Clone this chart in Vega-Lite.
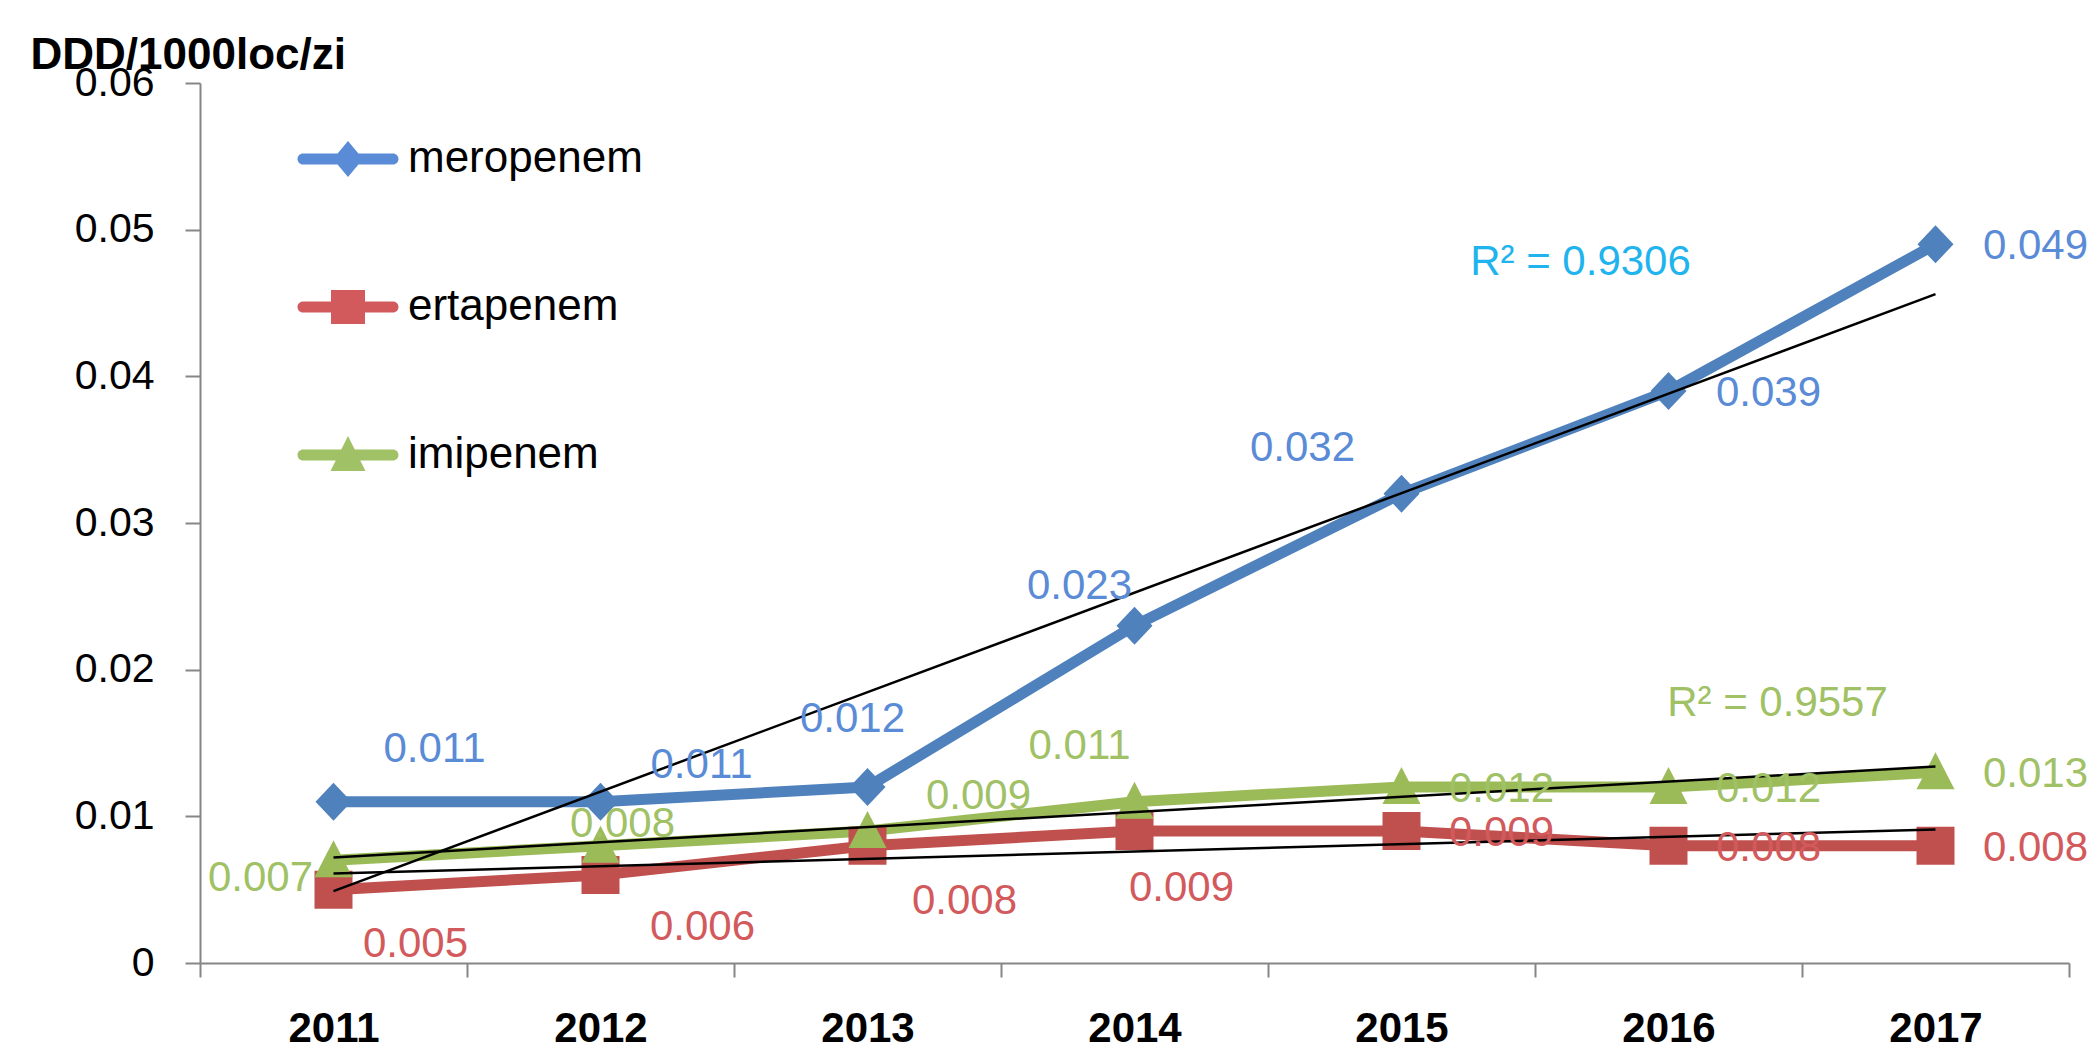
{
  "$schema": "https://vega.github.io/schema/vega-lite/v6.json",
  "width": 1869,
  "height": 880,
  "autosize": {"type": "none"},
  "padding": {"left": 200, "top": 83, "right": 27, "bottom": 101},
  "background": "white",
  "config": {"view": {"stroke": null}, "font": "Liberation Sans"},
  "datasets": {
    "main": [
      {"series": "meropenem", "year": 2011, "value": 0.011},
      {"series": "meropenem", "year": 2012, "value": 0.011},
      {"series": "meropenem", "year": 2013, "value": 0.012},
      {"series": "meropenem", "year": 2014, "value": 0.023},
      {"series": "meropenem", "year": 2015, "value": 0.032},
      {"series": "meropenem", "year": 2016, "value": 0.039},
      {"series": "meropenem", "year": 2017, "value": 0.049},
      {"series": "ertapenem", "year": 2011, "value": 0.005},
      {"series": "ertapenem", "year": 2012, "value": 0.006},
      {"series": "ertapenem", "year": 2013, "value": 0.008},
      {"series": "ertapenem", "year": 2014, "value": 0.009},
      {"series": "ertapenem", "year": 2015, "value": 0.009},
      {"series": "ertapenem", "year": 2016, "value": 0.008},
      {"series": "ertapenem", "year": 2017, "value": 0.008},
      {"series": "imipenem", "year": 2011, "value": 0.007},
      {"series": "imipenem", "year": 2012, "value": 0.008},
      {"series": "imipenem", "year": 2013, "value": 0.009},
      {"series": "imipenem", "year": 2014, "value": 0.011},
      {"series": "imipenem", "year": 2015, "value": 0.012},
      {"series": "imipenem", "year": 2016, "value": 0.012},
      {"series": "imipenem", "year": 2017, "value": 0.013}
    ],
    "trend": [
      {"series": "meropenem", "year": 2011, "value": 0.0049, "r2": ""},
      {"series": "meropenem", "year": 2017, "value": 0.0456, "r2": "R² = 0.9306"},
      {"series": "ertapenem", "year": 2011, "value": 0.0061, "r2": ""},
      {"series": "ertapenem", "year": 2017, "value": 0.0091, "r2": ""},
      {"series": "imipenem", "year": 2011, "value": 0.0072, "r2": ""},
      {"series": "imipenem", "year": 2017, "value": 0.0134, "r2": "R² = 0.9557"}
    ]
  },
  "data": {"name": "main"},
  "encoding": {
    "x": {
      "field": "year", "type": "ordinal",
      "scale": {"type": "band", "paddingInner": 0, "paddingOuter": 0, "domain": [2011, 2012, 2013, 2014, 2015, 2016, 2017]},
      "axis": {"title": null, "labelAngle": 0, "tickBand": "extent", "labelFontSize": 42, "labelFontWeight": "bold", "labelFont": "Liberation Sans", "labelColor": "#000", "labelPadding": 31, "tickSize": 14, "tickWidth": 2, "tickColor": "#868686", "domainColor": "#868686", "domainWidth": 2, "grid": false}
    },
    "y": {
      "field": "value", "type": "quantitative",
      "scale": {"domain": [0, 0.06], "nice": false},
      "axis": {"title": "DDD/1000loc/zi", "titleAngle": 0, "titleAlign": "left", "titleBaseline": "alphabetic", "titleX": -170, "titleY": -15, "titleFontSize": 44, "titleFontWeight": "bold", "titleColor": "#000", "titleFont": "Liberation Sans", "values": [0, 0.01, 0.02, 0.03, 0.04, 0.05, 0.06], "format": ".2~f", "labelFontSize": 41, "labelFont": "Liberation Sans", "labelColor": "#000", "labelPadding": 31, "labelOverlap": false, "labelFlush": false, "tickSize": 15, "tickWidth": 2, "tickColor": "#868686", "domainColor": "#868686", "domainWidth": 2, "grid": false}
    }
  },
  "layer": [
    {
      "mark": {"type": "line", "strokeWidth": 11, "strokeJoin": "round", "strokeCap": "round"},
      "encoding": {
        "stroke": {
          "field": "series", "type": "nominal",
          "scale": {"domain": ["meropenem", "ertapenem", "imipenem"], "range": ["#4f81bd", "#c0504d", "#9bbb59"]},
          "legend": {
            "title": null, "orient": "none", "legendX": 98, "legendY": 26, "padding": 0,
            "symbolSize": 10000, "symbolStrokeWidth": 0, "labelFontSize": 44, "labelFont": "Liberation Sans", "labelColor": "#000", "labelOffset": 10, "rowPadding": 76, "labelLimit": 0,
            "encode": {
              "symbols": {
                "update": {
                  "shape": {"signal": "datum.value === 'meropenem' ? 'M-0.9,-0.11H0.9A0.11,0.11,0,0,1,0.9,0.11H-0.9A0.11,0.11,0,0,1,-0.9,-0.11Z M0,-0.36L0.3,0L0,0.36L-0.3,0Z' : datum.value === 'ertapenem' ? 'M-0.9,-0.11H0.9A0.11,0.11,0,0,1,0.9,0.11H-0.9A0.11,0.11,0,0,1,-0.9,-0.11Z M-0.34,-0.34H0.34V0.34H-0.34Z' : 'M-0.9,-0.11H0.9A0.11,0.11,0,0,1,0.9,0.11H-0.9A0.11,0.11,0,0,1,-0.9,-0.11Z M0,-0.38L0.35,0.32H-0.35Z'"},
                  "fill": {"signal": "datum.value === 'meropenem' ? '#4f81bd' : datum.value === 'ertapenem' ? '#c0504d' : '#9bbb59'"},
                  "stroke": {"value": "transparent"},
                  "strokeWidth": {"value": 0},
                  "opacity": {"value": 1}
                }
              }
            }
          }
        }
      }
    },
    {
      "transform": [{"filter": "datum.series == 'meropenem'"}],
      "mark": {"type": "point", "filled": true, "opacity": 1, "size": 1600, "strokeWidth": 0, "color": "#4f81bd", "shape": "M0,-0.95L0.9,0L0,0.95L-0.9,0Z"}
    },
    {
      "transform": [{"filter": "datum.series == 'ertapenem'"}],
      "mark": {"type": "point", "filled": true, "opacity": 1, "size": 1600, "strokeWidth": 0, "color": "#c0504d", "shape": "M-0.95,-0.95H0.95V0.95H-0.95Z"}
    },
    {
      "transform": [{"filter": "datum.series == 'imipenem'"}],
      "mark": {"type": "point", "filled": true, "opacity": 1, "size": 1600, "strokeWidth": 0, "color": "#9bbb59", "shape": "M0,-1L0.95,0.85H-0.95Z"}
    },
    {
      "data": {"name": "trend"},
      "mark": {"type": "line", "color": "#000", "strokeWidth": 2.5},
      "encoding": {"detail": {"field": "series", "type": "nominal"}}
    },
    {
      "transform": [{"filter": "(datum.year >= 2016 && datum.series == 'meropenem') || (datum.year >= 2015 && datum.series != 'meropenem')"}],
      "mark": {"type": "text", "fontSize": 42, "font": "Liberation Sans", "align": "center", "baseline": "middle", "dx": 100, "dy": 2},
      "encoding": {"text": {"field": "value", "type": "quantitative", "format": ".3f"}, "fill": {"field": "series", "type": "nominal", "scale": {"domain": ["meropenem", "ertapenem", "imipenem"], "range": ["#5a8bd6", "#d25a5c", "#a0c165"]}, "legend": null}}
    },
    {
      "transform": [{"filter": "datum.series == 'meropenem' && datum.year == 2011"}],
      "mark": {"type": "text", "fontSize": 42, "font": "Liberation Sans", "align": "center", "baseline": "middle", "dx": 101, "dy": -53},
      "encoding": {"text": {"field": "value", "type": "quantitative", "format": ".3f"}, "fill": {"field": "series", "type": "nominal", "legend": null}}
    },
    {
      "transform": [{"filter": "datum.series == 'meropenem' && datum.year == 2012"}],
      "mark": {"type": "text", "fontSize": 42, "font": "Liberation Sans", "align": "center", "baseline": "middle", "dx": 101, "dy": -37},
      "encoding": {"text": {"field": "value", "type": "quantitative", "format": ".3f"}, "fill": {"field": "series", "type": "nominal", "legend": null}}
    },
    {
      "transform": [{"filter": "datum.series == 'meropenem' && datum.year == 2013"}],
      "mark": {"type": "text", "fontSize": 42, "font": "Liberation Sans", "align": "center", "baseline": "middle", "dx": -15, "dy": -68},
      "encoding": {"text": {"field": "value", "type": "quantitative", "format": ".3f"}, "fill": {"field": "series", "type": "nominal", "legend": null}}
    },
    {
      "transform": [{"filter": "datum.series == 'meropenem' && datum.year == 2014"}],
      "mark": {"type": "text", "fontSize": 42, "font": "Liberation Sans", "align": "center", "baseline": "middle", "dx": -55, "dy": -40},
      "encoding": {"text": {"field": "value", "type": "quantitative", "format": ".3f"}, "fill": {"field": "series", "type": "nominal", "legend": null}}
    },
    {
      "transform": [{"filter": "datum.series == 'meropenem' && datum.year == 2015"}],
      "mark": {"type": "text", "fontSize": 42, "font": "Liberation Sans", "align": "center", "baseline": "middle", "dx": -99, "dy": -46},
      "encoding": {"text": {"field": "value", "type": "quantitative", "format": ".3f"}, "fill": {"field": "series", "type": "nominal", "legend": null}}
    },
    {
      "transform": [{"filter": "datum.series == 'imipenem' && datum.year == 2011"}],
      "mark": {"type": "text", "fontSize": 42, "font": "Liberation Sans", "align": "center", "baseline": "middle", "dx": -73, "dy": 18},
      "encoding": {"text": {"field": "value", "type": "quantitative", "format": ".3f"}, "fill": {"field": "series", "type": "nominal", "legend": null}}
    },
    {
      "transform": [{"filter": "datum.series == 'imipenem' && datum.year == 2012"}],
      "mark": {"type": "text", "fontSize": 42, "font": "Liberation Sans", "align": "center", "baseline": "middle", "dx": 22, "dy": -22},
      "encoding": {"text": {"field": "value", "type": "quantitative", "format": ".3f"}, "fill": {"field": "series", "type": "nominal", "legend": null}}
    },
    {
      "transform": [{"filter": "datum.series == 'imipenem' && datum.year == 2013"}],
      "mark": {"type": "text", "fontSize": 42, "font": "Liberation Sans", "align": "center", "baseline": "middle", "dx": 111, "dy": -35},
      "encoding": {"text": {"field": "value", "type": "quantitative", "format": ".3f"}, "fill": {"field": "series", "type": "nominal", "legend": null}}
    },
    {
      "transform": [{"filter": "datum.series == 'imipenem' && datum.year == 2014"}],
      "mark": {"type": "text", "fontSize": 42, "font": "Liberation Sans", "align": "center", "baseline": "middle", "dx": -55, "dy": -56},
      "encoding": {"text": {"field": "value", "type": "quantitative", "format": ".3f"}, "fill": {"field": "series", "type": "nominal", "legend": null}}
    },
    {
      "transform": [{"filter": "datum.series == 'ertapenem' && datum.year == 2011"}],
      "mark": {"type": "text", "fontSize": 42, "font": "Liberation Sans", "align": "center", "baseline": "middle", "dx": 82, "dy": 54},
      "encoding": {"text": {"field": "value", "type": "quantitative", "format": ".3f"}, "fill": {"field": "series", "type": "nominal", "legend": null}}
    },
    {
      "transform": [{"filter": "datum.series == 'ertapenem' && datum.year == 2012"}],
      "mark": {"type": "text", "fontSize": 42, "font": "Liberation Sans", "align": "center", "baseline": "middle", "dx": 102, "dy": 52},
      "encoding": {"text": {"field": "value", "type": "quantitative", "format": ".3f"}, "fill": {"field": "series", "type": "nominal", "legend": null}}
    },
    {
      "transform": [{"filter": "datum.series == 'ertapenem' && datum.year == 2013"}],
      "mark": {"type": "text", "fontSize": 42, "font": "Liberation Sans", "align": "center", "baseline": "middle", "dx": 97, "dy": 55},
      "encoding": {"text": {"field": "value", "type": "quantitative", "format": ".3f"}, "fill": {"field": "series", "type": "nominal", "legend": null}}
    },
    {
      "transform": [{"filter": "datum.series == 'ertapenem' && datum.year == 2014"}],
      "mark": {"type": "text", "fontSize": 42, "font": "Liberation Sans", "align": "center", "baseline": "middle", "dx": 47, "dy": 57},
      "encoding": {"text": {"field": "value", "type": "quantitative", "format": ".3f"}, "fill": {"field": "series", "type": "nominal", "legend": null}}
    },
    {
      "data": {"name": "trend"},
      "transform": [{"filter": "datum.series == 'meropenem' && datum.year == 2017"}],
      "mark": {"type": "text", "fontSize": 42, "font": "Liberation Sans", "align": "center", "baseline": "middle", "dx": -355, "dy": -32, "color": "#1fb4ee"},
      "encoding": {"text": {"field": "r2", "type": "nominal"}}
    },
    {
      "data": {"name": "trend"},
      "transform": [{"filter": "datum.series == 'imipenem' && datum.year == 2017"}],
      "mark": {"type": "text", "fontSize": 42, "font": "Liberation Sans", "align": "center", "baseline": "middle", "dx": -158, "dy": -63, "color": "#a0c165"},
      "encoding": {"text": {"field": "r2", "type": "nominal"}}
    }
  ]
}
